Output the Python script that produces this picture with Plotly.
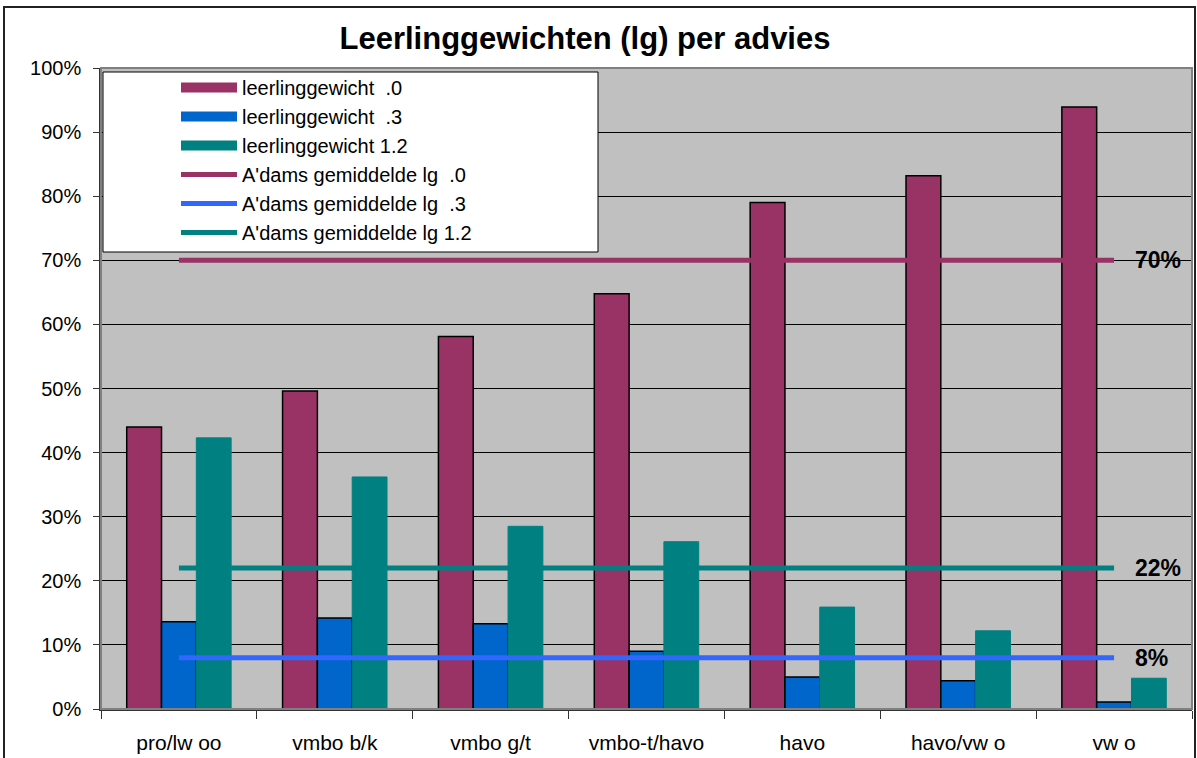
import plotly.graph_objects as go

categories = ["pro/lw oo", "vmbo b/k", "vmbo g/t", "vmbo-t/havo", "havo", "havo/vw o", "vw o"]
lg_00 = [44.0, 49.6, 58.1, 64.8, 79.0, 83.2, 93.9]
lg_03 = [13.6, 14.2, 13.3, 9.0, 5.0, 4.4, 1.1]
lg_12 = [42.3, 36.2, 28.5, 26.1, 15.9, 12.2, 4.8]
avg_00 = 70
avg_03 = 8
avg_12 = 22
avg_labels = ["70%", "8%", "22%"]
bar_names = ["leerlinggewicht  .0", "leerlinggewicht  .3", "leerlinggewicht 1.2"]
line_names = ["A'dams gemiddelde lg  .0", "A'dams gemiddelde lg  .3", "A'dams gemiddelde lg 1.2"]
ytick_vals = [0, 10, 20, 30, 40, 50, 60, 70, 80, 90, 100]
ytick_text = [f"{v}%" for v in ytick_vals]

W, H = 1197, 758
# pixel positions of the plot area
L, R, T, B = 101, 1192, 68, 709
pw, ph = R - L, B - T

MAROON = "#993366"
BLUE = "#0066CC"
TEAL = "#008080"
LBLUE = "#3366FF"
FONT = "Liberation Sans, Arial"

fig = go.Figure()
bar_cols = [MAROON, BLUE, TEAL]
bar_lines = [dict(color="black", width=1.5), dict(color="black", width=1.5), dict(color=TEAL, width=1)]
for name, vals, col, ln in zip(bar_names, [lg_00, lg_03, lg_12], bar_cols, bar_lines):
    fig.add_trace(go.Bar(name=name, x=categories, y=vals, showlegend=False, legendgroup=name,
                         marker=dict(color=col, line=ln)))
# legend entries for bars drawn as wide swatches
for name, col in zip(bar_names, bar_cols):
    fig.add_trace(go.Scatter(name=name, x=[None], y=[None], mode="lines", legendgroup=name,
                             line=dict(color=col, width=16), hoverinfo="skip"))
for name, val, col in zip(line_names, [avg_00, avg_03, avg_12], [MAROON, LBLUE, TEAL]):
    fig.add_trace(go.Scatter(name=name, x=categories, y=[val] * len(categories),
                             mode="lines", line=dict(color=col, width=5)))

def px_x(x):
    return (x - L) / pw

def px_y(y):
    return (B - y) / ph

shapes = [
    dict(type="rect", xref="paper", yref="paper", x0=px_x(4), x1=px_x(1195), y0=px_y(800), y1=px_y(7),
         line=dict(color="#222222", width=2), fillcolor="rgba(0,0,0,0)", layer="below"),
    dict(type="rect", xref="paper", yref="paper", x0=0, x1=1, y0=0, y1=1,
         line=dict(color="#808080", width=2), fillcolor="rgba(0,0,0,0)", layer="above"),
    dict(type="rect", xref="paper", yref="paper", x0=px_x(103), x1=px_x(598), y0=px_y(252), y1=px_y(72),
         line=dict(color="black", width=1), fillcolor="white", layer="above"),
]

annotations = []
for val, lab in zip([avg_00, avg_03, avg_12], avg_labels):
    annotations.append(dict(x=px_x(1133), xref="paper", y=val, yref="y", text=f"<b>{lab}</b>",
                            showarrow=False, xanchor="left", yanchor="middle",
                            font=dict(size=23, color="black", family=FONT)))

fig.update_layout(
    width=W, height=H,
    margin=dict(l=L, r=W - R, t=T, b=H - B, pad=0),
    paper_bgcolor="white", plot_bgcolor="#C0C0C0",
    font=dict(family=FONT, color="black", size=19),
    title=dict(text="<b>Leerlinggewichten (lg) per advies</b>", x=585 / W, xanchor="center",
               y=1 - 38 / H, yanchor="middle", font=dict(size=31, color="black")),
    barmode="group", bargap=0.33, bargroupgap=0,
    showlegend=True,
    legend=dict(x=px_x(176), y=px_y(68), xanchor="left", yanchor="top",
                bgcolor="rgba(0,0,0,0)", borderwidth=0, font=dict(size=20),
                itemwidth=56, tracegroupgap=0, traceorder="normal"),
    shapes=shapes, annotations=annotations,
)
fig.update_yaxes(range=[0, 100], tickvals=ytick_vals, ticktext=ytick_text,
                 showgrid=True, gridcolor="black", gridwidth=1,
                 ticks="outside", ticklen=6, tickcolor="#333333",
                 showline=True, linecolor="#333333", linewidth=1.5,
                 tickfont=dict(size=20), ticklabelstandoff=8, zeroline=False)
fig.update_xaxes(tickson="boundaries", ticks="outside", ticklen=8, tickcolor="#333333",
                 showline=True, linecolor="#333333", linewidth=1.5,
                 tickfont=dict(size=21), ticklabelstandoff=14, showgrid=False)

fig.write_html("out.html", config={"displayModeBar": False},
               post_script="document.body.style.margin='0';document.body.style.overflow='hidden';")
